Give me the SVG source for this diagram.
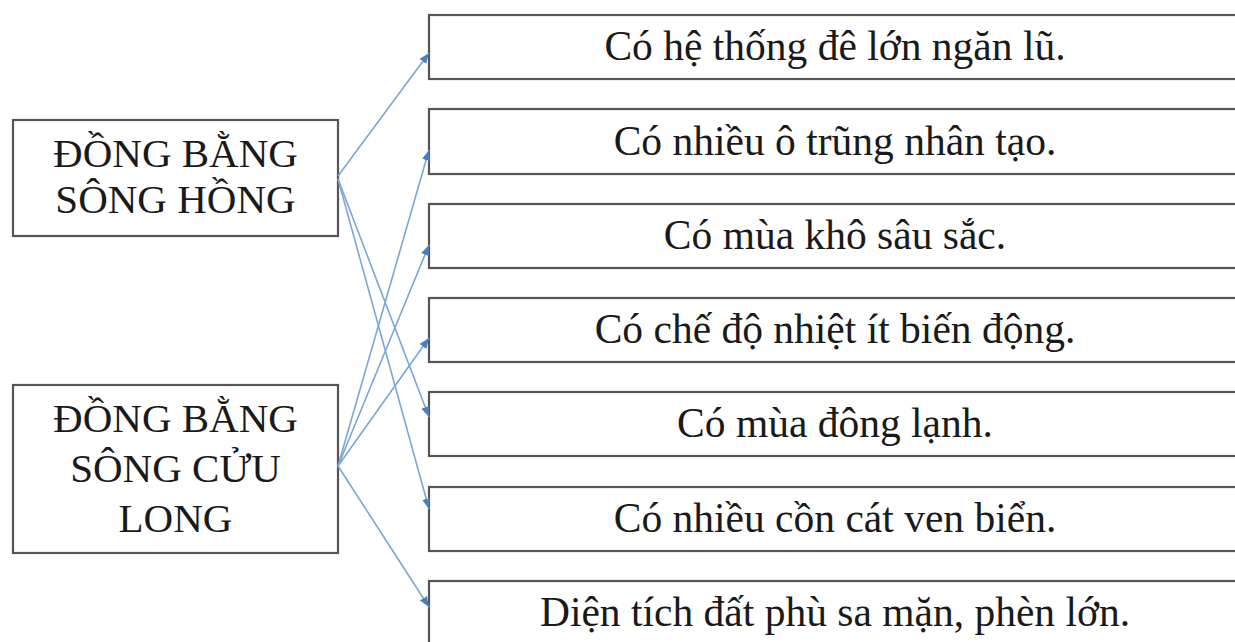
<svg xmlns="http://www.w3.org/2000/svg" width="1235" height="642" viewBox="0 0 1235 642">
<style>
.box{fill:#fff;stroke:#555;stroke-width:2.2}
.lt{font-family:"Liberation Serif","Times New Roman",serif;font-size:41px;fill:#1a1a1a;text-anchor:middle}
.rt{font-family:"Liberation Serif","Times New Roman",serif;font-size:41.5px;fill:#1a1a1a;text-anchor:middle}
.con{stroke:#7aa6d6;stroke-width:1.6;fill:none;marker-end:url(#ah)}
</style>
<defs>
<marker id="ah" viewBox="0 0 10 10" refX="10" refY="5" markerWidth="6.5" markerHeight="6.5" orient="auto" markerUnits="strokeWidth">
<path d="M0,1 L10,5 L0,9 Z" fill="#4a7fba"/>
</marker>
</defs>
<rect width="1235" height="642" fill="#fff"/>
<g id="left1"><rect class="box" x="13" y="120" width="325" height="116"/>
<text class="lt" x="175.5" y="167">ĐỒNG BẰNG</text><text class="lt" x="175.5" y="213">SÔNG HỒNG</text></g>
<g id="left2"><rect class="box" x="13" y="385" width="325" height="168"/>
<text class="lt" x="175.5" y="432">ĐỒNG BẰNG</text><text class="lt" x="175.5" y="482">SÔNG CỬU</text><text class="lt" x="175.5" y="532">LONG</text></g>
<g id="r1"><rect class="box" x="429" y="15" width="812" height="64"/><text class="rt" x="835" y="60">Có hệ thống đê lớn ngăn lũ.</text></g>
<g id="r2"><rect class="box" x="429" y="109" width="812" height="65"/><text class="rt" x="835" y="155">Có nhiều ô trũng nhân tạo.</text></g>
<g id="r3"><rect class="box" x="429" y="204" width="812" height="64"/><text class="rt" x="835" y="249">Có mùa khô sâu sắc.</text></g>
<g id="r4"><rect class="box" x="429" y="298" width="812" height="64"/><text class="rt" x="835" y="343">Có chế độ nhiệt ít biến động.</text></g>
<g id="r5"><rect class="box" x="429" y="392" width="812" height="64"/><text class="rt" x="835" y="437">Có mùa đông lạnh.</text></g>
<g id="r6"><rect class="box" x="429" y="487" width="812" height="64"/><text class="rt" x="835" y="532">Có nhiều cồn cát ven biển.</text></g>
<g id="r7"><rect class="box" x="429" y="581" width="812" height="70"/><text class="rt" x="835" y="626">Diện tích đất phù sa mặn, phèn lớn.</text></g>
<g id="connectors">
<line class="con" x1="338" y1="176" x2="429" y2="53"/>
<line class="con" x1="338" y1="179" x2="429" y2="417"/>
<line class="con" x1="338" y1="179" x2="429" y2="509"/>
<line class="con" x1="338" y1="466" x2="429" y2="150"/>
<line class="con" x1="338" y1="466" x2="429" y2="245"/>
<line class="con" x1="338" y1="466" x2="429" y2="338"/>
<line class="con" x1="338" y1="466" x2="429" y2="607"/>
</g>
</svg>
